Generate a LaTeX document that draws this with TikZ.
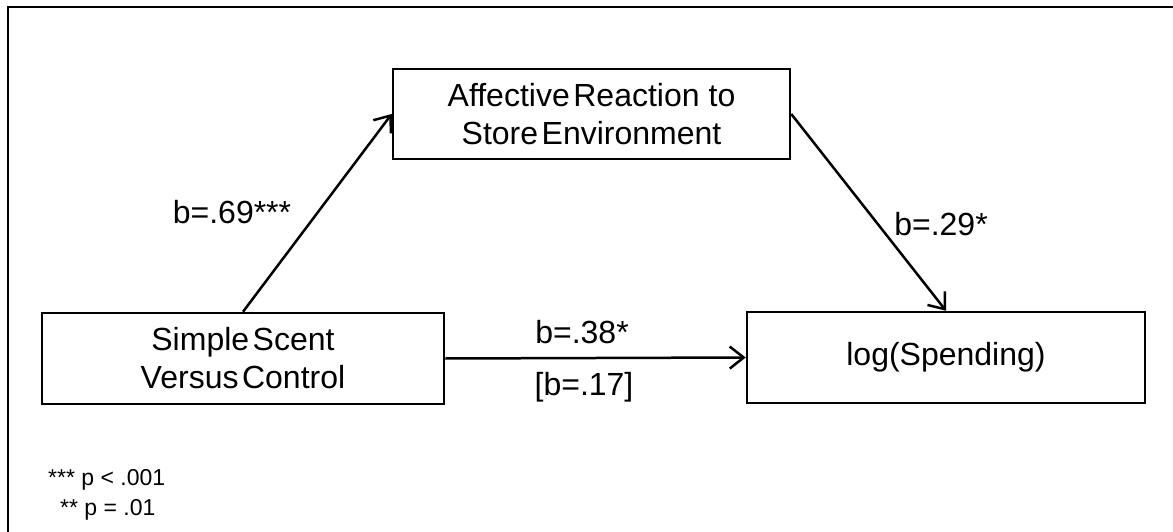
\documentclass[tikz,border=0pt]{standalone}
\usepackage{fontspec}
\setmainfont{Liberation Sans}
\newfontfamily\boxfont{Liberation Sans}[WordSpace=0.4]
\usetikzlibrary{arrows.meta}

\tikzset{
  box/.style={draw, line width=2.5pt, align=center, inner sep=0pt,
              font=\boxfont\fontsize{32}{38}\selectfont},
  link/.style={line width=2.5pt, -{Straight Barb[length=14pt, width=22pt, line width=2.5pt]}},
  coef/.style={font=\fontsize{32}{38}\selectfont, inner sep=0pt},
  note/.style={font=\fontsize{23}{28}\selectfont, inner sep=0pt, anchor=base west},
}

\begin{document}
\begin{tikzpicture}[x=1pt, y=-1pt]
  \useasboundingbox (0,0) rectangle (1173,532);

  % frame
  \draw[line width=1.8pt] (8,532) -- (8,7) -- (1173,7);

  % variables
  \node[box, minimum width=402pt, minimum height=91pt] (scent) at (243,358.5)
    {Simple Scent\\Versus Control};
  \node[box, minimum width=397pt, minimum height=90pt] (affect) at (591.5,114)
    {Affective Reaction\hspace{0.28em}to\\Store Environment};
  \node[box, minimum width=398pt, minimum height=91pt] (spend) at (946,357.5)
    {log(Spending)};

  % paths
  \draw[link] (scent.north) -- (affect.west);
  \draw[link] (affect.east) -- (spend.north);
  \draw[link] (scent.east) -- (spend.west);

  % coefficients
  \node[coef] (a) at (232,212) {b=.69***};
  \node[coef] (b) at (941,224) {b=.29*};
  \node[coef] (c) at (582,332) {b=.38*};
  \node[coef] (cp) at (584,387) {[b=.17]};

  % significance levels
  \node[note] (n1) at (48,485) {*** p < .001};
  \node[note] (n2) at (60,515) {** p = .01};
\end{tikzpicture}
\end{document}
